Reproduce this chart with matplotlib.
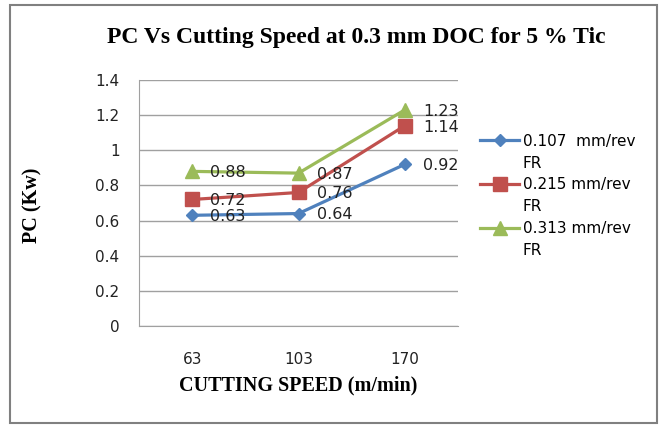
import matplotlib
matplotlib.use("Agg")
import matplotlib.pyplot as plt
from matplotlib.patches import Rectangle
from matplotlib.lines import Line2D

categories = ["63", "103", "170"]
series_names = ["0.107  mm/rev", "0.215 mm/rev", "0.313 mm/rev"]
series_suffix = "FR"
fr_0107 = [0.63, 0.64, 0.92]
fr_0215 = [0.72, 0.76, 1.14]
fr_0313 = [0.88, 0.87, 1.23]
y_ticks = [0, 0.2, 0.4, 0.6, 0.8, 1, 1.2, 1.4]
y_tick_labels = ["0", "0.2", "0.4", "0.6", "0.8", "1", "1.2", "1.4"]

colors = ["#4F81BD", "#C0504D", "#9BBB59"]
markers = ["D", "s", "^"]
msizes = [6.5, 10, 10]

fig = plt.figure(figsize=(6.67, 4.28), dpi=100)
fig.patch.set_facecolor("white")
fig.add_artist(Rectangle((10/667, 1-423/428), 647/667, 418/428, transform=fig.transFigure,
                         fill=False, edgecolor="#808080", linewidth=1.5))

ax = fig.add_axes([139/667, 1-326/428, 319/667, 246/428])
x = list(range(len(categories)))
handles, labels = [], []
for vals, name, c, m, ms in zip([fr_0107, fr_0215, fr_0313], series_names, colors, markers, msizes):
    ln, = ax.plot(x, vals, color=c, marker=m, markersize=ms, linewidth=2.3)
    handles += [ln, Line2D([], [], linestyle="none")]
    labels += [name, series_suffix]
    for xi, v in zip(x, vals):
        ax.annotate(f"{v:.2f}", (xi, v), xytext=(13, -1), textcoords="offset points",
                    ha="left", va="center", fontsize=11.5, family="DejaVu Sans", color="#222222")

ax.set_xlim(-0.5, 2.5)
ax.set_ylim(0, 1.4)
ax.set_xticks(x)
ax.set_xticklabels(categories)
ax.set_yticks(y_ticks)
ax.set_yticklabels(y_tick_labels)
ax.tick_params(axis="both", length=0, labelsize=11, colors="#222222")
ax.tick_params(axis="x", pad=19)
ax.tick_params(axis="y", pad=14)
ax.grid(axis="y", color="#A0A0A0", linewidth=1)
ax.set_axisbelow(True)
for s in ["top", "right"]:
    ax.spines[s].set_visible(False)
for s in ["left", "bottom"]:
    ax.spines[s].set_color("#A0A0A0")

fig.text(356/667, 1-38/428, "PC Vs Cutting Speed at 0.3 mm DOC for 5 % Tic", ha="center", va="center",
         fontsize=17, fontweight="bold", family="Liberation Serif")
fig.text(298/667, 1-385/428, "CUTTING SPEED (m/min)", ha="center", va="center",
         fontsize=14.5, fontweight="bold", family="Liberation Serif")
fig.text(32/667, 1-205/428, "PC (Kw)", ha="center", va="center", rotation=90,
         fontsize=14.5, fontweight="bold", family="Liberation Serif")

leg = fig.legend(handles, labels, loc="upper left", bbox_to_anchor=(466/667, 1-120/428), frameon=False,
                 handlelength=2.6, handletextpad=0.2, labelspacing=0.45,
                 prop={"family": "DejaVu Sans", "size": 11})

fig.savefig("out.png", dpi=100)
